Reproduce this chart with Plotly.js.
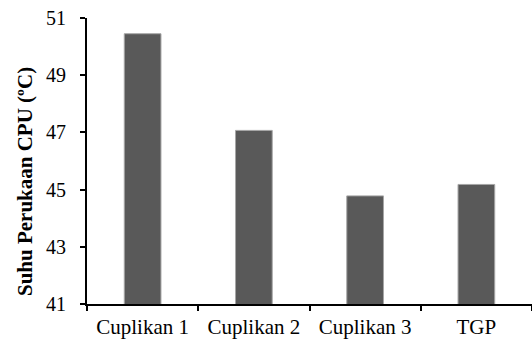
<!DOCTYPE html>
<html><head><meta charset="utf-8">
<script src="https://cdn.plot.ly/plotly-3.0.1.min.js"></script>
<style>body{margin:0;background:#fff}#c{width:532px;height:340px}</style>
</head><body><div id="c"></div>
<script>
const categories = ["Cuplikan 1", "Cuplikan 2", "Cuplikan 3", "TGP"];
const values = [50.45, 47.07, 44.78, 45.18];
const yTicks = [41, 43, 45, 47, 49, 51];
const yTitle = "Suhu Perukaan CPU (ºC)";

const FONT = "'Liberation Serif', 'Times New Roman', Times, serif";
const trace = {
  type: "bar", x: categories, y: values,
  marker: {color: "#595959", line: {color: "#a6a6a6", width: 1}},
  hoverinfo: "none"
};
const layout = {
  width: 532, height: 340,
  margin: {l: 87, r: 0, t: 18, b: 36},
  paper_bgcolor: "#fff", plot_bgcolor: "#fff",
  font: {family: FONT, color: "#000", size: 20},
  showlegend: false,
  bargap: 0.67,
  xaxis: {
    type: "category", showline: true, linecolor: "#000", linewidth: 2,
    ticks: "outside", tickson: "boundaries", ticklen: 5, tickwidth: 2, tickcolor: "#000",
    showgrid: false, zeroline: false, tickfont: {family: FONT, size: 21}, ticklabelstandoff: 3
  },
  yaxis: {
    range: [41, 51], tickvals: yTicks, showline: true, linecolor: "#000", linewidth: 2,
    ticks: "outside", ticklen: 5, tickwidth: 2, tickcolor: "#000",
    showgrid: false, zeroline: false, tickfont: {family: FONT, size: 20}, ticklabelstandoff: 10
  },
  annotations: [{
    text: "<b>" + yTitle + "</b>", textangle: -90, showarrow: false,
    xref: "paper", yref: "paper", x: -0.139, y: 0.427,
    xanchor: "center", yanchor: "middle", font: {family: FONT, size: 21}
  }]
};
Plotly.newPlot("c", [trace], layout, {staticPlot: true});
</script></body></html>
